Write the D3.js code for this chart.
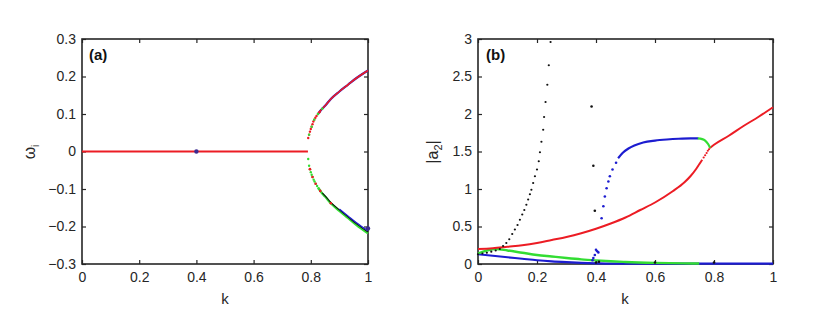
<!DOCTYPE html>
<html>
<head>
<meta charset="utf-8">
<script src="https://cdn.jsdelivr.net/npm/d3@7"></script>
<style>
  body { margin: 0; background: #fff; }
  svg { font-family: "Liberation Sans", Arial, sans-serif; }
</style>
</head>
<body>
<svg id="chart" width="824" height="319"></svg>
<script>
// ---- panel (a): imaginary part of omega vs k ----
const aFlatK = [0, 0.79];
const aFlatW = [0, 0];
const aUpK = [0.791, 0.794, 0.797, 0.8, 0.803, 0.806, 0.809, 0.812, 0.816, 0.82, 0.825, 0.83, 0.835, 0.84, 0.85, 0.87, 0.9, 0.93, 0.96, 1.0];
const aUpW = [0.036, 0.045, 0.053, 0.06, 0.066, 0.073, 0.08, 0.085, 0.09, 0.095, 0.1, 0.105, 0.11, 0.114, 0.122, 0.14, 0.16, 0.178, 0.196, 0.216];
const aLowK = [0.791, 0.794, 0.797, 0.8, 0.803, 0.806, 0.81, 0.813, 0.817, 0.822, 0.827, 0.833, 0.84, 0.85, 0.87, 0.9, 0.93, 0.96, 1.0];
const aLowW = [-0.02, -0.038, -0.047, -0.055, -0.062, -0.068, -0.075, -0.08, -0.086, -0.092, -0.098, -0.105, -0.112, -0.12, -0.138, -0.158, -0.177, -0.196, -0.218];
const aMarkK = [0.4, 1.0];
const aMarkW = [0, -0.205];
const aXTicks = [0, 0.2, 0.4, 0.6, 0.8, 1];
const aYTicks = [-0.3, -0.2, -0.1, 0, 0.1, 0.2, 0.3];

// ---- panel (b): |a2| vs k ----
const redK = [0, 0.05, 0.1, 0.15, 0.2, 0.25, 0.3, 0.35, 0.4, 0.45, 0.5, 0.55, 0.6, 0.66, 0.7, 0.72, 0.74, 0.75, 0.76];
const redV = [0.2, 0.21, 0.23, 0.25, 0.28, 0.32, 0.36, 0.41, 0.47, 0.54, 0.62, 0.72, 0.82, 0.97, 1.09, 1.17, 1.27, 1.33, 1.39];
const redDotK = [0.765, 0.77, 0.775, 0.779, 0.783, 0.786];
const redDotV = [1.42, 1.45, 1.48, 1.51, 1.53, 1.55];
const red2K = [0.787, 0.8, 0.85, 0.9, 0.95, 1.0];
const red2V = [1.55, 1.59, 1.71, 1.84, 1.96, 2.09];
const blueLowK = [0, 0.05, 0.1, 0.15, 0.2, 0.25, 0.3, 0.35, 0.4, 0.45, 1.0];
const blueLowV = [0.13, 0.11, 0.09, 0.07, 0.05, 0.035, 0.024, 0.015, 0.008, 0.004, 0.004];
const blueDotK = [0.388, 0.391, 0.396, 0.4, 0.404, 0.408, 0.419, 0.425, 0.43, 0.436, 0.442, 0.447, 0.456, 0.468];
const blueDotV = [0.05, 0.08, 0.12, 0.19, 0.17, 0.155, 0.61, 0.77, 0.9, 1.01, 1.1, 1.17, 1.26, 1.35];
const blueUpK = [0.475, 0.49, 0.51, 0.53, 0.56, 0.6, 0.64, 0.68, 0.72, 0.747];
const blueUpV = [1.41, 1.48, 1.54, 1.58, 1.62, 1.645, 1.66, 1.67, 1.675, 1.675];
const greenUpK = [0.745, 0.76, 0.77, 0.78, 0.787];
const greenUpV = [1.675, 1.665, 1.645, 1.6, 1.55];
const greenLowK = [0, 0.03, 0.06, 0.1, 0.15, 0.2, 0.25, 0.3, 0.35, 0.4, 0.45, 0.5, 0.6, 0.7, 0.75];
const greenLowV = [0.14, 0.18, 0.2, 0.18, 0.15, 0.12, 0.1, 0.08, 0.062, 0.048, 0.036, 0.027, 0.015, 0.008, 0.006];
const blackK = [0, 0.015, 0.03, 0.045, 0.06, 0.074, 0.085, 0.096, 0.106, 0.116, 0.125, 0.134, 0.142, 0.15, 0.157, 0.164, 0.17, 0.176, 0.181, 0.187, 0.193, 0.2, 0.206, 0.21, 0.215, 0.221, 0.224, 0.229, 0.235, 0.24, 0.246];
const blackV = [0.13, 0.14, 0.15, 0.165, 0.18, 0.2, 0.24, 0.28, 0.33, 0.4, 0.46, 0.52, 0.59, 0.66, 0.72, 0.79, 0.86, 0.93, 0.99, 1.08, 1.17, 1.26, 1.37, 1.49, 1.63, 1.79, 1.96, 2.16, 2.39, 2.65, 2.96];
const blackIsoK = [0.385, 0.391, 0.396, 0.4, 0.41, 0.6, 0.8];
const blackIsoV = [2.1, 1.31, 0.71, 0.02, 0.03, 0.02, 0.02];
const bXTicks = [0, 0.2, 0.4, 0.6, 0.8, 1];
const bYTicks = [0, 0.5, 1, 1.5, 2, 2.5, 3];

const RED = '#ec1c24', BLUE = '#1c1cd0', GREEN = '#33dd33', BLACK = '#111';
const svg = d3.select('#chart');

function zip(ks, vs) { return ks.map((k, i) => ({ k: k, v: vs[i] })); }

function panel(x0, x1, y0, y1, xDom, yDom, xTicks, yTicks, fmtY) {
  const x = d3.scaleLinear().domain(xDom).range([x0, x1]);
  const y = d3.scaleLinear().domain(yDom).range([y1, y0]);
  const g = svg.append('g');
  const fmt = d => (d === 0 || d === 1) ? String(d) : String(d).replace('-', '\u2212');

  g.append('g').attr('transform', `translate(0,${y1})`)
    .call(d3.axisBottom(x).tickValues(xTicks).tickSize(-4).tickPadding(8).tickFormat(fmt));
  g.append('g').attr('transform', `translate(0,${y0})`)
    .call(d3.axisTop(x).tickValues(xTicks).tickSize(-4).tickFormat(''));
  g.append('g').attr('transform', `translate(${x0},0)`)
    .call(d3.axisLeft(y).tickValues(yTicks).tickSize(-4).tickPadding(6).tickFormat(fmtY || fmt));
  g.append('g').attr('transform', `translate(${x1},0)`)
    .call(d3.axisRight(y).tickValues(yTicks).tickSize(-4).tickFormat(''));
  g.selectAll('.domain').remove();
  g.selectAll('.tick line').attr('stroke', '#262626').attr('stroke-width', 1.2);
  g.selectAll('.tick text').attr('fill', '#262626').style('font-size', '14px');
  g.append('rect').attr('x', x0).attr('y', y0).attr('width', x1 - x0).attr('height', y1 - y0)
    .attr('fill', 'none').attr('stroke', '#262626').attr('stroke-width', 1.6);

  const plot = svg.append('g');
  const line = d3.line().x(d => x(d.k)).y(d => y(d.v)).curve(d3.curveMonotoneX);
  return {
    x, y, g,
    line(data, color, w) {
      plot.append('path').datum(data).attr('d', line).attr('fill', 'none')
        .attr('stroke', color).attr('stroke-width', w || 2);
    },
    dots(data, color, r) {
      plot.selectAll(null).data(data).enter().append('circle')
        .attr('cx', d => x(d.k)).attr('cy', d => y(d.v)).attr('r', r || 1.2).attr('fill', color);
    }
  };
}

// panel (a)
const pa = panel(82, 368, 39, 264, [0, 1], [-0.3, 0.3], aXTicks, aYTicks);
const upper = zip(aUpK, aUpW), lower = zip(aLowK, aLowW);
pa.line(upper.slice(10), BLUE, 2.2);
pa.line(upper.slice(10), RED, 1.6);
pa.dots(upper.slice(0, 12), RED, 1.2);
pa.dots(upper.filter((d, i) => i % 3 === 1 && i < 16), GREEN, 1.2);
pa.line(lower.slice(10), GREEN, 2.4);
pa.line(lower.slice(12).map(d => ({ k: d.k, v: d.v * 0.985 })), BLACK, 1.1);
pa.line(lower.slice(15).map(d => ({ k: d.k, v: d.v * 0.97 })), BLUE, 1.2);
pa.dots(lower.slice(0, 12), GREEN, 1.2);
pa.dots(lower.filter((d, i) => i % 3 === 2 && i < 15), RED, 1.3);
pa.line(zip(aFlatK, aFlatW), RED, 1.8);
pa.dots(zip(aMarkK, aMarkW), '#3a2a90', 2.2);

// panel (b)
const pb = panel(478, 773, 39, 264, [0, 1], [0, 3], bXTicks, bYTicks, d => String(d));
pb.line(zip(blueLowK, blueLowV), BLUE, 2.2);
pb.line(zip(greenLowK, greenLowV), GREEN, 2.4);
pb.line(zip(redK, redV), RED, 2);
pb.dots(zip(redDotK, redDotV), RED, 1.1);
pb.line(zip(red2K, red2V), RED, 2);
pb.dots(zip(blueDotK, blueDotV), BLUE, 1.3);
pb.line(zip(blueUpK, blueUpV), BLUE, 2.2);
pb.line(zip(greenUpK, greenUpV), GREEN, 2.2);
pb.dots(zip(blackK, blackV), BLACK, 1.1);
pb.dots(zip(blackIsoK, blackIsoV), BLACK, 1.3);

// labels
svg.append('text').attr('x', 225).attr('y', 304).attr('text-anchor', 'middle')
  .style('font-size', '15px').attr('fill', '#262626').text('k');
svg.append('text').attr('x', 625).attr('y', 304).attr('text-anchor', 'middle')
  .style('font-size', '15px').attr('fill', '#262626').text('k');
svg.append('text').attr('x', 89).attr('y', 60).style('font-size', '15px')
  .style('font-weight', 'bold').attr('fill', '#111').text('(a)');
svg.append('text').attr('x', 486).attr('y', 60).style('font-size', '15px')
  .style('font-weight', 'bold').attr('fill', '#111').text('(b)');

const wl = svg.append('text').attr('transform', 'translate(35,152) rotate(-90)')
  .attr('text-anchor', 'middle').style('font-size', '16px').attr('fill', '#262626');
wl.append('tspan').text('\u03c9');
wl.append('tspan').attr('dy', 4).style('font-size', '10px').text('i');

const al = svg.append('text').attr('transform', 'translate(438,152) rotate(-90)')
  .attr('text-anchor', 'middle').style('font-size', '16px').attr('fill', '#262626');
al.append('tspan').text('|a');
al.append('tspan').attr('dy', 4).style('font-size', '11px').text('2');
al.append('tspan').attr('dy', -4).text('|');
</script>
</body>
</html>
